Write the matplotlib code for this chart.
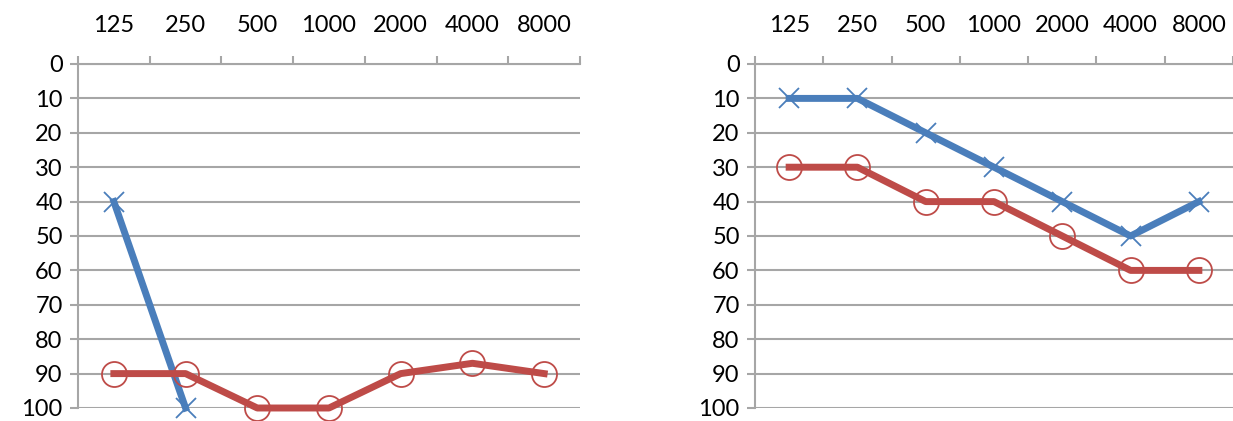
import numpy as np
import matplotlib.pyplot as plt

freqs = ['125', '250', '500', '1000', '2000', '4000', '8000']

left_blue = [40, 100, np.nan, np.nan, np.nan, np.nan, np.nan]
left_red = [90, 90, 100, 100, 90, 87, 90]

right_blue = [10, 10, 20, 30, 40, 50, 40]
right_red = [30, 30, 40, 40, 50, 60, 60]

plt.rcParams['font.family'] = ['Lato', 'DejaVu Sans']

BLUE = '#4a7ebb'
RED = '#be4b48'
GRID = '#a6a6a6'

fig = plt.figure(figsize=(12.33, 4.21), dpi=100)
ax1 = fig.add_axes([78 / 1233, 1 - 408 / 421, 502 / 1233, 344 / 421])
ax2 = fig.add_axes([755 / 1233, 1 - 408 / 421, 478 / 1233, 344 / 421])


def style(ax):
    x = np.arange(len(freqs))
    ax.set_xlim(-0.5, len(freqs) - 0.5)
    ax.set_ylim(100, 0)
    ax.set_yticks(np.arange(0, 101, 10))
    ax.xaxis.tick_top()
    ax.set_xticks(x)
    ax.set_xticklabels(freqs)
    ax.set_xticks(np.arange(-0.5, len(freqs)), minor=True)
    ax.tick_params(axis='x', which='major', length=0, pad=20, labelsize=17)
    ax.tick_params(axis='x', which='minor', length=6, color=GRID, width=1.5, direction='out')
    ax.tick_params(axis='y', length=6, color=GRID, width=1.5, labelsize=17, pad=5)
    ax.yaxis.grid(True, color=GRID, linewidth=1.5)
    ax.set_axisbelow(True)
    for s in ['right', 'bottom']:
        ax.spines[s].set_visible(False)
    for s in ['left', 'top']:
        ax.spines[s].set_color(GRID)
        ax.spines[s].set_linewidth(1.5)


for ax, blue, red in [(ax1, left_blue, left_red), (ax2, right_blue, right_red)]:
    style(ax)
    x = np.arange(len(freqs))
    ax.plot(x, blue, color=BLUE, linewidth=5, marker='x', markersize=15,
            markeredgewidth=1.3, clip_on=False, zorder=3)
    ax.plot(x, red, color=RED, linewidth=5, marker='o', markersize=18,
            markerfacecolor='none', markeredgewidth=1.3, clip_on=False, zorder=4)

fig.savefig('out.png', dpi=100)
